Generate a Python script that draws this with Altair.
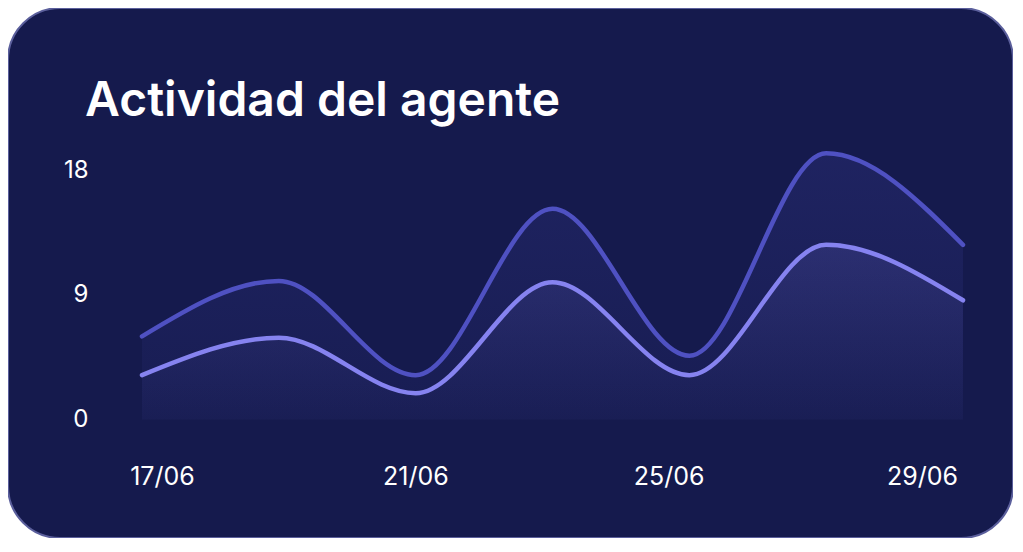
import altair as alt
import pandas as pd

# ---- data ----
point_index = [0, 1, 2, 3, 4, 5, 6]
serie_superior = [6.0, 10.0, 3.2, 15.2, 4.6, 19.2, 12.6]
serie_inferior = [3.2, 5.9, 1.9, 9.9, 3.2, 12.6, 8.6]
x_label_days = [17, 21, 25, 29]
y_tick_values = [0, 9, 18]
titulo = "Actividad del agente"

W, H = 1005, 530
BG = "#151a4d"
C_TOP = "#4f51c2"
C_BOT = "#8683f0"
FONT = "Inter"

df = pd.DataFrame({"i": point_index, "sup": serie_superior, "inf": serie_inferior})
lab = pd.DataFrame({"day": x_label_days})

xs = alt.Scale(domain=[0, 6], range=[134, 955], nice=False, zero=False)
ys = alt.Scale(domain=[0, 18], range=[411.5, 162], nice=False, zero=False)

y_axis = alt.Axis(values=y_tick_values, offset=-80, orient="left", domain=False,
                  ticks=False, tickSize=0, grid=False, labelPadding=0,
                  labelAlign="right", labelBaseline="middle", labelFont=FONT,
                  labelFontSize=24, labelColor="#ffffff", title=None)

def grad(c1, c2):
    return alt.Gradient(gradient="linear", x1=0, x2=0, y1=0, y2=1,
                        stops=[alt.GradientStop(color=c1, offset=0),
                               alt.GradientStop(color=c2, offset=1)])

base = alt.Chart(df)

area_top = base.mark_area(interpolate="monotone",
                          fill=grad("rgba(79,81,194,0.17)", "rgba(79,81,194,0.05)")).encode(
    x=alt.X("i:Q", scale=xs, axis=None),
    y=alt.Y("sup:Q", scale=ys, axis=y_axis),
    y2=alt.datum(0),
)
area_bot = base.mark_area(interpolate="monotone",
                          fill=grad("rgba(134,131,240,0.14)", "rgba(134,131,240,0.01)")).encode(
    x=alt.X("i:Q", scale=xs, axis=None),
    y=alt.Y("inf:Q", scale=ys),
    y2=alt.datum(0),
)
line_top = base.mark_line(interpolate="monotone", color=C_TOP, strokeWidth=4.5,
                          strokeCap="round").encode(
    x=alt.X("i:Q", scale=xs, axis=None),
    y=alt.Y("sup:Q", scale=ys),
)
line_bot = base.mark_line(interpolate="monotone", color=C_BOT, strokeWidth=4.5,
                          strokeCap="round").encode(
    x=alt.X("i:Q", scale=xs, axis=None),
    y=alt.Y("inf:Q", scale=ys),
)

x_axis_layer = alt.Chart(lab).mark_point(opacity=0).encode(
    x=alt.X("day:Q", scale=alt.Scale(domain=[17, 29], range=[154, 914], nice=False, zero=False),
            axis=alt.Axis(values=x_label_days, labelExpr="datum.value + '/06'",
                          orient="bottom", offset=468 - H, domain=False, ticks=False,
                          tickSize=0, grid=False, labelPadding=0, labelFlush=False,
                          labelOverlap=False, labelBaseline="middle", labelAlign="center",
                          labelFont=FONT, labelFontSize=25, labelColor="#ffffff",
                          title=None)),
)

chart = alt.layer(area_top, area_bot, line_top, line_bot, x_axis_layer).resolve_scale(
    x="independent"
).resolve_axis(x="independent").properties(
    width=W, height=H,
    autosize=alt.AutoSizeParams(type="none"),
    padding=0,
    background="#ffffff",
    title=alt.TitleParams(text=titulo, anchor="start", frame="group", orient="top",
                          offset=-156, dx=77, baseline="alphabetic", font=FONT,
                          fontSize=48, fontWeight=600, color="#ffffff"),
).configure_view(fill=BG, stroke="#5b5f9c", strokeWidth=2, cornerRadius=52)

chart.save("out.html", embed_options={"renderer": "svg", "actions": False})
